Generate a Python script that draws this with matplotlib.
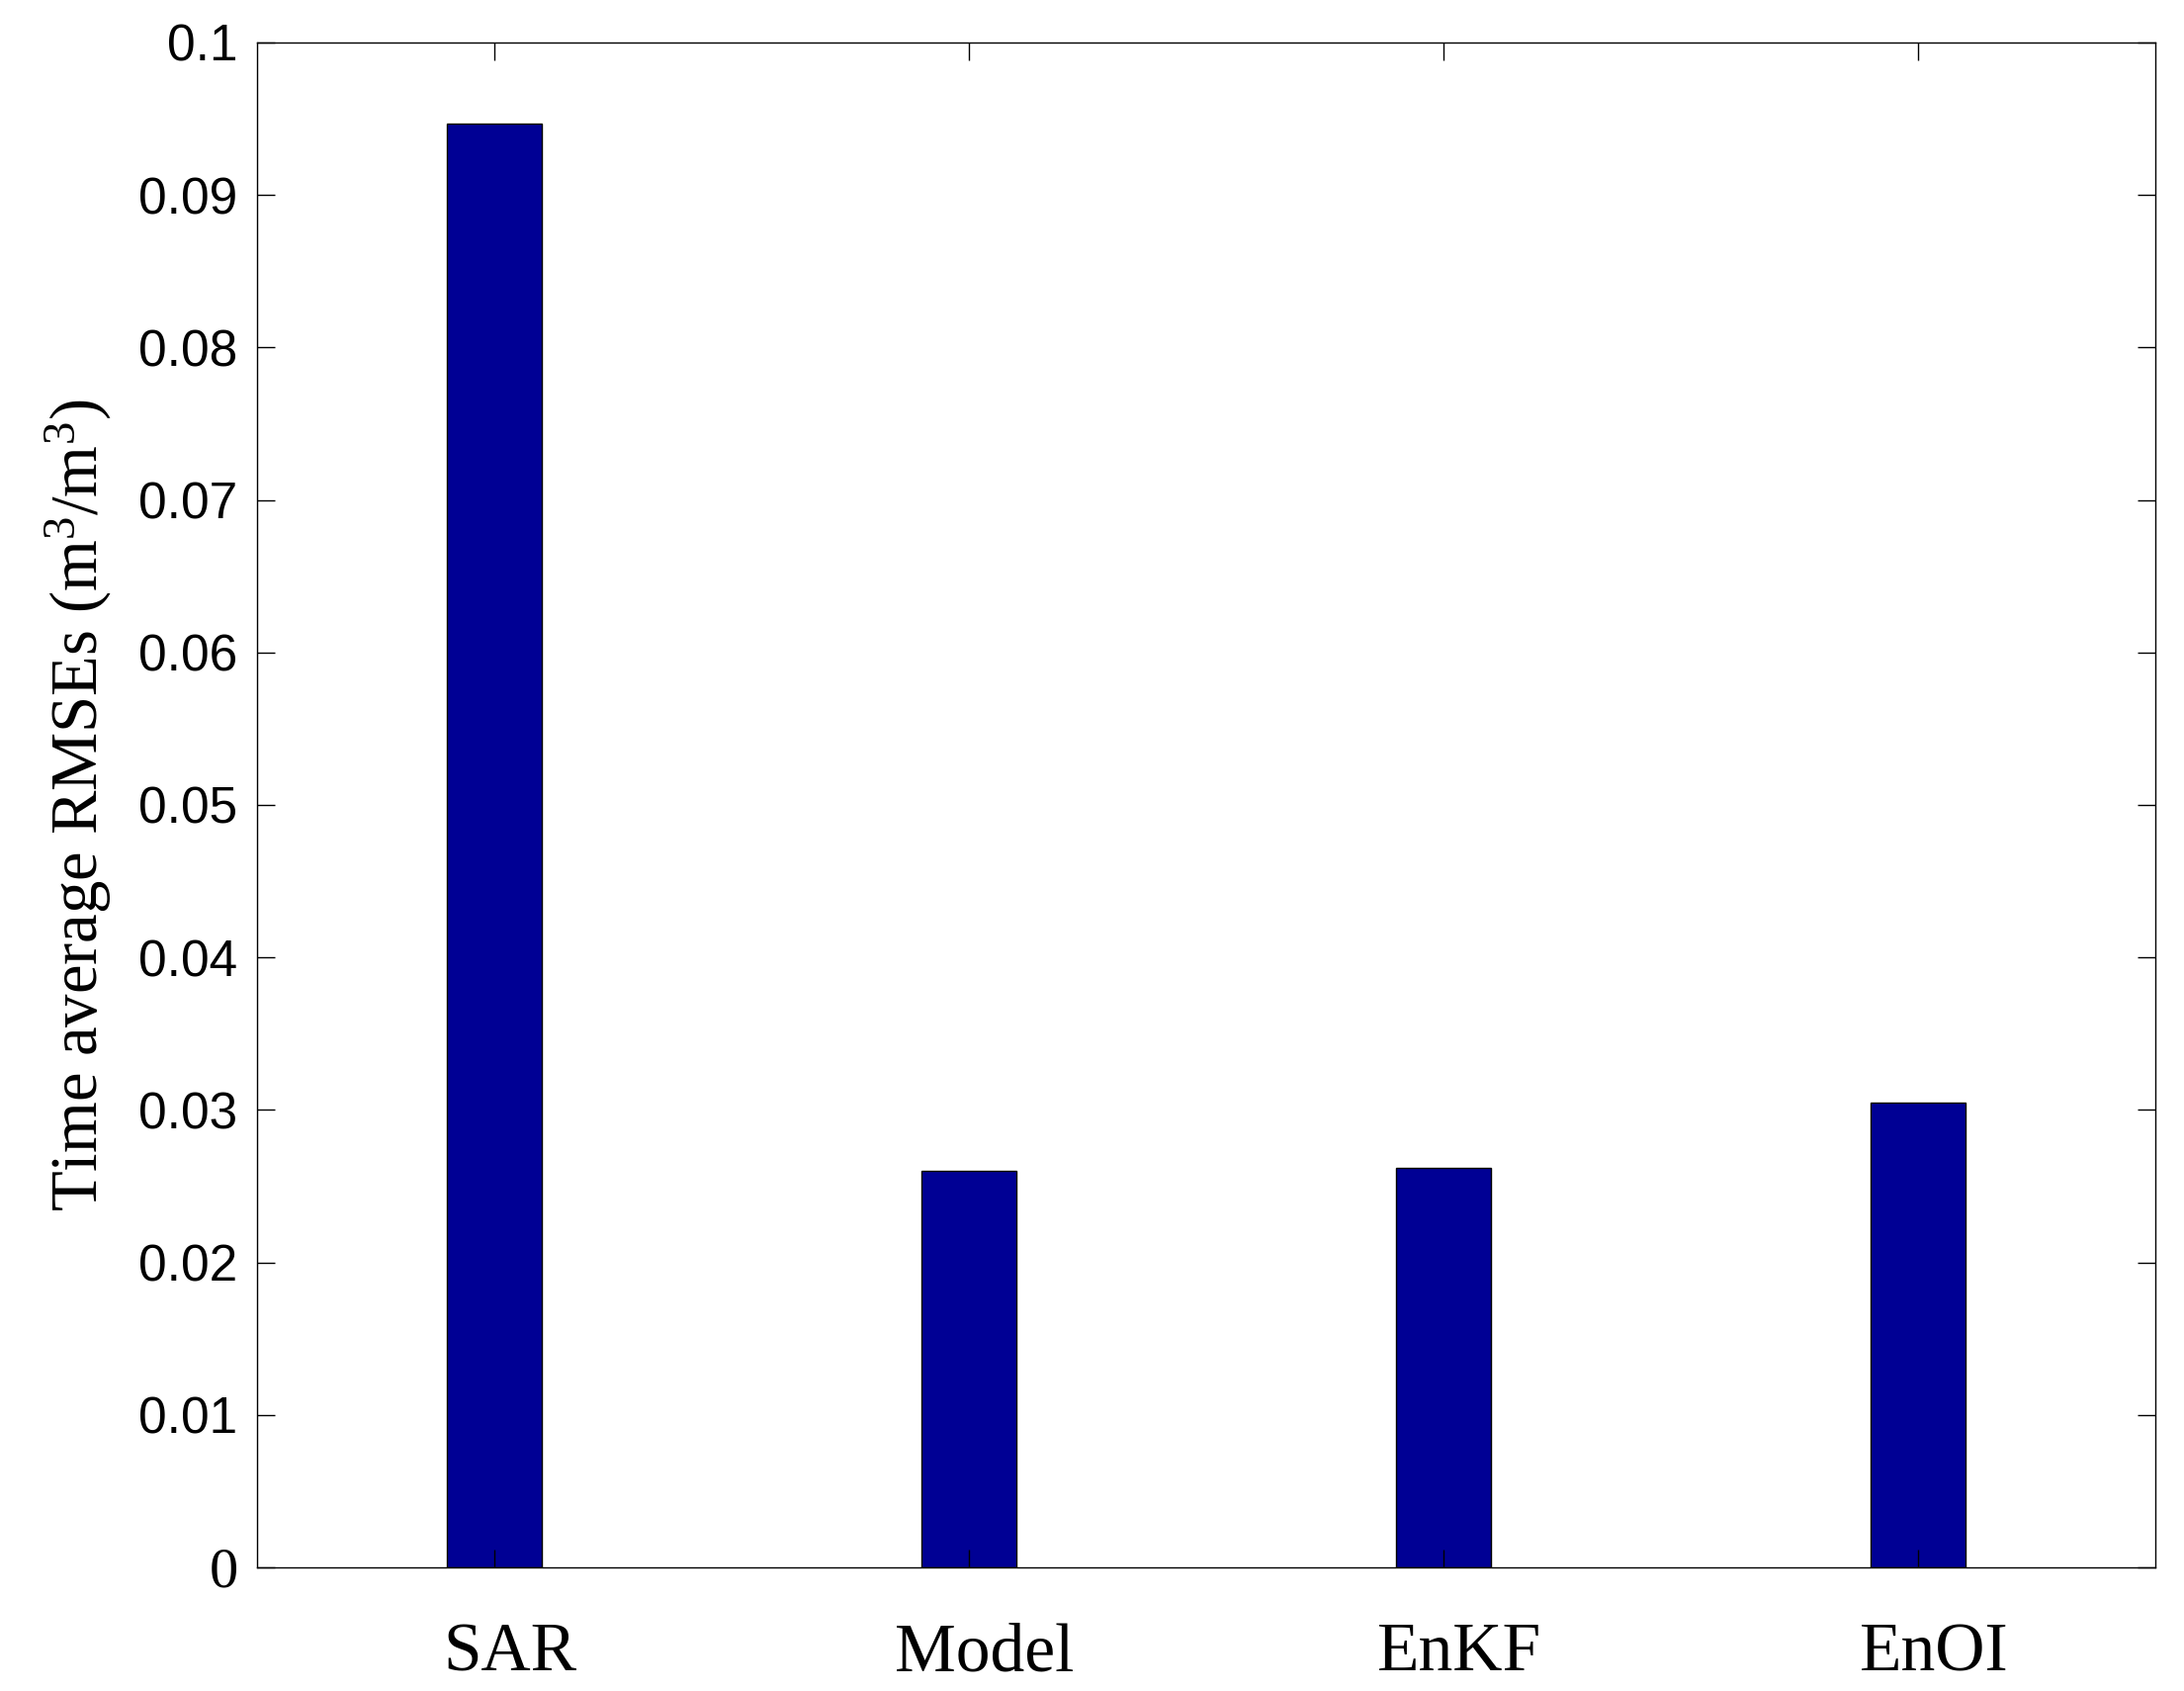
import matplotlib
matplotlib.use("Agg")
import matplotlib.pyplot as plt
import matplotlib.transforms as mtransforms

# values
methods = ["SAR", "Model", "EnKF", "EnOI"]
rmse = [0.0947, 0.0260, 0.0262, 0.0305]
yticks = [0, 0.01, 0.02, 0.03, 0.04, 0.05, 0.06, 0.07, 0.08, 0.09, 0.1]
ytick_labels = ["0", "0.01", "0.02", "0.03", "0.04", "0.05",
                "0.06", "0.07", "0.08", "0.09", "0.1"]


def main():
    plt.rcParams["mathtext.fontset"] = "custom"
    plt.rcParams["mathtext.rm"] = "Liberation Serif"
    plt.rcParams["mathtext.it"] = "Liberation Serif:italic"

    fig = plt.figure(figsize=(22.09, 17.10), dpi=100)
    ax = fig.add_axes([0.1177, 0.0731, 0.8692, 0.9018])

    x = list(range(1, len(methods) + 1))
    ax.bar(x, rmse, width=0.2, color="#000094", edgecolor="black", linewidth=1.0)

    ax.set_xlim(0.5, 4.5)
    ax.set_ylim(0, 0.1)
    ax.set_xticks(x)
    ax.set_xticklabels(methods, family="Liberation Serif", fontsize=50)
    ax.set_yticks(yticks)
    ax.set_yticklabels(ytick_labels, family="Liberation Sans", fontsize=37)
    zero = ax.get_yticklabels()[0]
    zero.set_family("Liberation Serif")
    zero.set_fontsize(42)

    ax.tick_params(axis="both", direction="in", length=13, width=1.0,
                   top=True, right=True)
    ax.tick_params(axis="x", pad=40)
    ax.tick_params(axis="y", pad=14)
    for s in ax.spines.values():
        s.set_linewidth(1.0)

    # labels in the reference sit a little right of the bar centres
    shift = mtransforms.ScaledTranslation(0.16, 0, fig.dpi_scale_trans)
    for lbl in ax.get_xticklabels():
        lbl.set_transform(lbl.get_transform() + shift)

    ax.set_ylabel("Time average RMSEs (m$^3$/m$^3$)", family="Liberation Serif",
                  fontsize=48, labelpad=18)

    fig.savefig("out.png", dpi=100)


if __name__ == "__main__":
    main()
